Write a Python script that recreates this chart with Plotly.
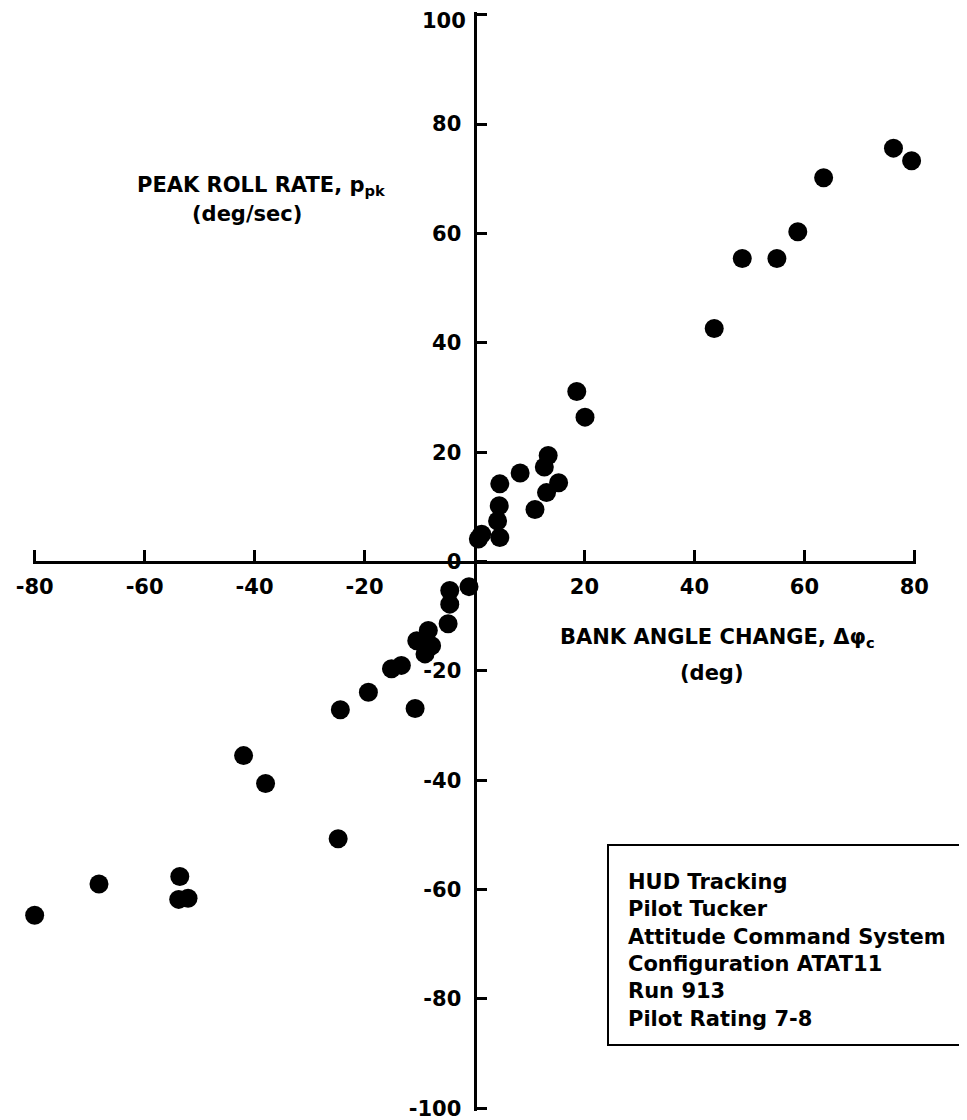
import plotly.graph_objects as go

# ---- data ----
bank_angle_change = [
    76.2, 79.5, 63.5, 58.8, 55.0, 48.7, 43.6,
    18.6, 20.1, 13.4, 12.7, 8.3, 15.3, 13.1, 11.0, 4.6, 4.5, 4.2, 4.6, 1.3, 0.7,
    -1.0, -4.5, -4.5, -4.8, -8.4, -10.5, -7.8, -9.0, -13.3, -15.1, -19.3, -24.4, -10.8,
    -24.8, -42.0, -38.0, -68.3, -53.6, -53.8, -52.1, -80.0,
]
peak_roll_rate = [
    75.6, 73.3, 70.2, 60.3, 55.4, 55.4, 42.6,
    31.1, 26.4, 19.4, 17.3, 16.2, 14.4, 12.6, 9.5, 14.2, 10.2, 7.4, 4.4, 5.0, 4.1,
    -4.6, -5.3, -7.8, -11.4, -12.6, -14.5, -15.4, -16.9, -19.0, -19.6, -23.9, -27.1, -26.9,
    -50.7, -35.5, -40.6, -59.0, -57.6, -61.8, -61.6, -64.7,
]

x_tick_vals = [-80, -60, -40, -20, 20, 40, 60, 80]
x_tick_text = ["-80", "-60", "-40", "-20", "20", "40", "60", "80"]
y_tick_vals = [-100, -80, -60, -40, -20, 0, 20, 40, 60, 80]
y_tick_text = ["-100", "-80", "-60", "-40", "-20", "0", "20", "40", "60", "80"]
y_top_tick = 100
y_top_text = "100"

x_range = [-80.3, 80.3]
y_range = [-100.5, 100.5]

info_lines = [
    "HUD Tracking",
    "Pilot Tucker",
    "Attitude Command System",
    "Configuration ATAT11",
    "Run 913",
    "Pilot Rating 7-8",
]

# ---- layout geometry (page body adds an 8px offset) ----
W, H = 967, 1120
OFF = 8
ML, MT = 25, 4
PW, PH = 883, 1099
MR = W - ML - PW
MB = H - MT - PH


def px_x(px):
    return (px - OFF - ML) / PW


def px_y(py):
    return (MT + PH - (py - OFF)) / PH


FONT = "DejaVu Sans"
fsize = 21
black = "#000000"

fig = go.Figure()
fig.add_trace(go.Scatter(
    x=bank_angle_change, y=peak_roll_rate, mode="markers",
    marker=dict(size=19, color=black, line=dict(width=0)),
    cliponaxis=False, showlegend=False, hoverinfo="x+y",
))

x_pos = (0 - y_range[0]) / (y_range[1] - y_range[0])
y_pos = (0 - x_range[0]) / (x_range[1] - x_range[0])

tfont = dict(family=FONT, size=fsize, color=black, weight="bold")

fig.update_layout(
    width=W, height=H,
    margin=dict(l=ML, r=MR, t=MT, b=MB, autoexpand=False),
    paper_bgcolor="white", plot_bgcolor="white",
    font=tfont,
    xaxis=dict(
        range=x_range, anchor="free", position=x_pos, side="bottom",
        automargin=False,
        showline=True, linecolor=black, linewidth=3,
        ticks="inside", ticklen=11, tickwidth=3, tickcolor=black,
        tickvals=x_tick_vals, ticktext=x_tick_text,
        ticklabelstandoff=5, ticklabeloverflow="allow",
        showgrid=False, zeroline=False, tickfont=tfont,
    ),
    yaxis=dict(
        range=y_range, anchor="free", position=y_pos, side="left",
        automargin=False,
        showline=True, linecolor=black, linewidth=3,
        ticks="inside", ticklen=10, tickwidth=3, tickcolor=black,
        tickvals=y_tick_vals, ticktext=y_tick_text,
        ticklabelstandoff=8, ticklabeloverflow="allow",
        minor=dict(tickvals=[y_top_tick], ticks="inside", ticklen=10,
                   tickwidth=3, tickcolor=black, showgrid=False),
        showgrid=False, zeroline=False, tickfont=tfont,
    ),
)

# top tick label placed just below its tick so it is not cut at the page edge
fig.add_annotation(xref="x", yref="y", x=0, y=y_top_tick, text=y_top_text,
                   xanchor="right", yanchor="middle", xshift=-7, yshift=-6,
                   showarrow=False, font=tfont)

annotations = [
    dict(text="PEAK ROLL RATE, p<sub>pk</sub>", x=px_x(262), y=px_y(186)),
    dict(text="(deg/sec)", x=px_x(247), y=px_y(214)),
    dict(text="BANK ANGLE CHANGE, Δφ<sub>c</sub>", x=px_x(717), y=px_y(638)),
    dict(text="(deg)", x=px_x(712), y=px_y(673)),
]
for a in annotations:
    fig.add_annotation(xref="paper", yref="paper", showarrow=False,
                       xanchor="center", yanchor="middle", font=tfont, **a)

fig.add_annotation(
    xref="paper", yref="paper", x=px_x(626), y=px_y(950),
    xanchor="left", yanchor="middle", align="left", showarrow=False,
    text="<br>".join(info_lines), font=tfont,
)

fig.add_shape(type="rect", xref="paper", yref="paper",
              x0=px_x(608), x1=px_x(1000), y0=px_y(1045), y1=px_y(845),
              line=dict(color=black, width=2), fillcolor="rgba(0,0,0,0)")

fig.write_html("out.html")
